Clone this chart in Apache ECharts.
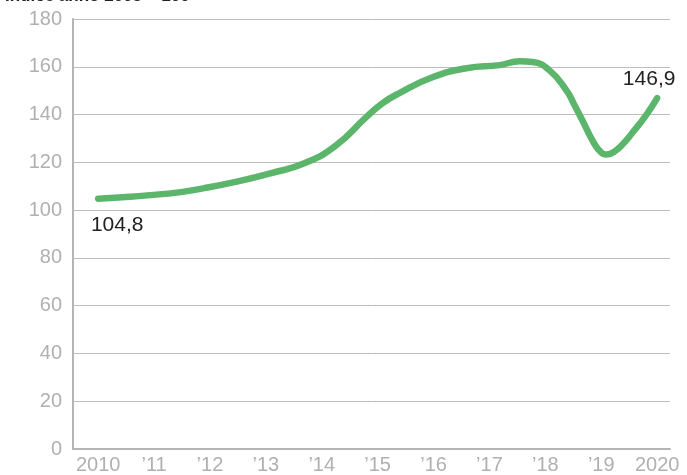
<!DOCTYPE html>
<html>
<head>
<meta charset="utf-8">
<script src="https://cdn.jsdelivr.net/npm/echarts@6/dist/echarts.min.js"></script>
<style>
  html, body { margin: 0; padding: 0; background: #fff; }
  #chart { width: 687px; height: 475px; }
</style>
</head>
<body>
<div id="chart"></div>
<script>
// tick labels on the x axis
var tickYears = [2010, 2011, 2012, 2013, 2014, 2015, 2016, 2017, 2018, 2019, 2020];
// points (year, index)
var years = [2010, 2011.3, 2011.9, 2012.5, 2013.1, 2013.7, 2014.25, 2014.8, 2015.09, 2015.39,
  2015.98, 2016.59, 2017.18, 2017.54, 2017.77, 2018.07, 2018.38, 2018.52, 2018.66,
  2018.84, 2018.98, 2019.1, 2019.24, 2019.4, 2019.55, 2019.8, 2020];
var values = [104.8, 107, 109.2, 112, 115.5, 119.7, 127, 139, 144.8, 149,
  155.6, 159.4, 160.7, 162.3, 162, 158.6, 150, 144, 137.7,
  129.3, 124.6, 123.3, 124.6, 128, 132.2, 139.7, 146.9];

var chartDom = document.getElementById("chart");
var myChart = echarts.init(chartDom);

var fmt = function (v) {
  return String(v).replace(".", ",");
};

var data = years.map(function (y, i) {
  var item = { value: [y, values[i]] };
  if (i === 0) {
    item.label = { show: true, position: "bottom", offset: [19, 11] };
  } else if (i === years.length - 1) {
    item.label = { show: true, position: "top", offset: [-8, -3] };
  }
  return item;
});

var option = {
  animation: false,
  title: {
    text: "Indice anno 2005 = 100",
    left: 0,
    top: -17,
    textStyle: { fontFamily: "Liberation Sans", fontSize: 17, fontWeight: "bold", color: "#222" },
  },
  grid: { left: 73, right: 17, top: 19, bottom: 26 },
  xAxis: {
    type: "value",
    min: 2009.55,
    max: 2020.23,
    axisLine: { show: true, onZero: false, lineStyle: { color: "#b4b4b4", width: 2 } },
    axisTick: { show: false },
    splitLine: { show: false },
    axisLabel: {
      customValues: tickYears,
      margin: 6,
      color: "#b0b0b0",
      fontSize: 20,
      fontFamily: "Liberation Sans",
      formatter: function (v) {
        return v === 2010 || v === 2020 ? String(v) : "\u2019" + String(v).slice(2);
      },
    },
  },
  yAxis: {
    type: "value",
    min: 0,
    max: 180,
    interval: 20,
    axisLine: { show: true, lineStyle: { color: "#b4b4b4", width: 2 } },
    axisTick: { show: false },
    splitLine: { lineStyle: { color: "#bdbdbd", width: 1 } },
    axisLabel: {
      margin: 11,
      color: "#b0b0b0",
      fontSize: 20,
      fontFamily: "Liberation Sans",
    },
  },
  series: [
    {
      type: "line",
      smooth: 0.5,
      symbol: "circle",
      symbolSize: 0,
      showSymbol: true,
      lineStyle: { color: "#5bb56b", width: 6.5, cap: "round" },
      itemStyle: { color: "#5bb56b" },
      label: {
        color: "#222",
        fontSize: 21,
        fontFamily: "Liberation Sans",
        formatter: function (p) {
          return fmt(p.value[1]);
        },
      },
      data: data,
    },
  ],
};

option && myChart.setOption(option);
</script>
</body>
</html>
